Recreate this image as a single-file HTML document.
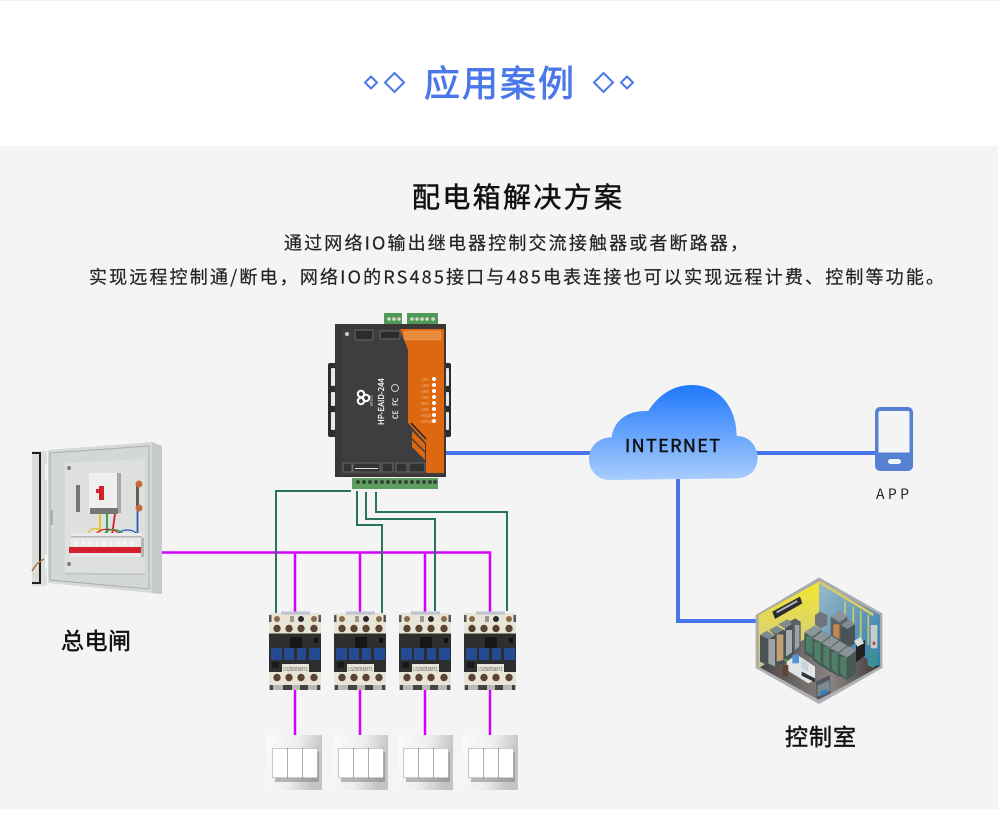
<!DOCTYPE html>
<html><head><meta charset="utf-8"><style>
html,body{margin:0;padding:0;background:#fff;width:1000px;height:827px;overflow:hidden}
svg{display:block}
text{font-family:"Noto Sans CJK SC","Liberation Sans",sans-serif}
</style></head><body>
<svg width="1000" height="827" viewBox="0 0 1000 827" xmlns="http://www.w3.org/2000/svg">
<defs>
<linearGradient id="cl" x1="0" y1="0" x2="0" y2="1"><stop offset="0" stop-color="#1f78fb"/><stop offset="1" stop-color="#a9cdfd"/></linearGradient>
<linearGradient id="sw" x1="0" y1="0" x2="1" y2="0.25"><stop offset="0" stop-color="#fbfbfb"/><stop offset=".55" stop-color="#eeeeee"/><stop offset="1" stop-color="#c4c4c4"/></linearGradient>
<linearGradient id="yl" x1="0" y1="0" x2="0" y2="1"><stop offset="0" stop-color="#f5e52e"/><stop offset="1" stop-color="#c8c79a"/></linearGradient>
<linearGradient id="bw" x1="0" y1="0" x2="1" y2="1"><stop offset="0" stop-color="#9db9c9"/><stop offset="1" stop-color="#2c7da8"/></linearGradient>
<linearGradient id="fl" x1="0" y1="0" x2="1" y2="0"><stop offset="0" stop-color="#4a4341"/><stop offset=".6" stop-color="#8a8583"/><stop offset="1" stop-color="#3d3735"/></linearGradient>
<g id="ct">
<rect x="0" y="0" width="52" height="22" fill="#e8e5d8"/>
<rect x="12" y="-1.500" width="29" height="3" fill="#bcc3cf"/>
<rect x="0" y="2" width="2.500" height="7" fill="#555"/><rect x="49.500" y="2" width="2.500" height="7" fill="#555"/>
<circle cx="8" cy="6" r="3" fill="#8c6a48"/><circle cx="32" cy="6" r="3" fill="#2a2a2a"/><circle cx="45" cy="6" r="3" fill="#8c6a48"/><rect x="21" y="3" width="4" height="6" fill="#9a9a8c"/>
<circle cx="8" cy="15.500" r="3.700" fill="#5a4330"/><circle cx="20" cy="15.500" r="3.700" fill="#5a4330"/><circle cx="32" cy="15.500" r="3.700" fill="#5a4330"/><circle cx="45" cy="15.500" r="3.700" fill="#5a4330"/>
<rect x="0" y="20.500" width="52" height="39" fill="#2e2e2e"/>
<rect x="21" y="24" width="12" height="11" fill="#161616"/>
<rect x="45" y="25" width="4" height="5" fill="#111"/>
<rect x="2" y="35" width="11" height="12" fill="#234a92"/><rect x="15" y="35" width="10" height="12" fill="#234a92"/><rect x="28" y="35" width="9" height="12" fill="#234a92"/><rect x="40" y="35" width="11" height="12" fill="#234a92"/>
<rect x="3" y="49" width="7" height="6" fill="#1a1a1a"/>
<rect x="13" y="51" width="27" height="9" fill="#e8e5d8"/>
<text x="14" y="58" font-size="5.500" fill="#777" textLength="25">LS2587089T1</text>
<rect x="0" y="59" width="52" height="15" fill="#e8e5d8"/>
<circle cx="8" cy="64.500" r="3.700" fill="#5a4330"/><circle cx="20" cy="64.500" r="3.700" fill="#5a4330"/><circle cx="32" cy="64.500" r="3.700" fill="#5a4330"/><circle cx="45" cy="64.500" r="3.700" fill="#5a4330"/>
<rect x="0" y="72" width="52" height="5" fill="#b9b9b2"/>
<rect x="1" y="72" width="3" height="5" fill="#444"/><rect x="14" y="72" width="9" height="5" fill="#444"/><rect x="31" y="72" width="8" height="5" fill="#444"/><rect x="48" y="72" width="3" height="5" fill="#444"/>
</g>
<g id="swi">
<rect x="0" y="0" width="55" height="55" fill="url(#sw)"/>
<rect x="8" y="17" width="44" height="30" fill="#777" opacity=".5"/>
<rect x="5.500" y="13" width="45" height="30" fill="#9a9a9a"/>
<rect x="6" y="13.500" width="14.200" height="29" rx=".8" fill="#fff"/>
<rect x="21" y="13.500" width="14.200" height="29" rx=".8" fill="#fff"/>
<rect x="36" y="13.500" width="14.200" height="29" rx=".8" fill="#fff"/>
</g>
<g id="rk"><path d="M0 12L20 0 44 12 44 28 24 40 0 28z" fill="#7f8b8f"/></g>
</defs>

<rect width="1000" height="827" fill="#fff"/>
<rect width="1000" height="1" fill="#f0f0f0"/>
<rect x="0" y="146" width="998" height="663" fill="#f4f4f4"/>

<!-- title -->
<g fill="none" stroke="#4a78ea" stroke-width="2">
<path d="M371 76.500l6 6-6 6-6-6z"/>
<path d="M394.500 73l9.500 9.500-9.500 9.500-9.500-9.500z"/>
<path d="M603.500 73l9.500 9.500-9.500 9.500-9.500-9.500z"/>
<path d="M627 76.500l6 6-6 6-6-6z"/>
</g>
<text x="424" y="96" font-size="36" fill="#4a78ea" stroke="#4a78ea" stroke-width=".8" textLength="150" lengthAdjust="spacing">应用案例</text>
<text x="412" y="207" font-size="28" fill="#111" stroke="#111" stroke-width=".5" textLength="210" lengthAdjust="spacing">配电箱解决方案</text>
<text x="284" y="249.500" font-size="18" fill="#222" stroke="#222" stroke-width=".2" textLength="464" lengthAdjust="spacing">通过网络IO输出继电器控制交流接触器或者断路器，</text>
<text x="89" y="283.500" font-size="18" fill="#222" stroke="#222" stroke-width=".2" textLength="855" lengthAdjust="spacing">实现远程控制通/断电，网络IO的RS485接口与485电表连接也可以实现远程计费、控制等功能。</text>

<!-- connectors -->
<g fill="none" stroke="#4a74ee" stroke-width="4">
<path d="M446 453H595"/><path d="M750 453H880"/><path d="M678 475V621H760"/>
</g>
<g fill="none" stroke="#d500f9" stroke-width="2.500">
<path d="M162 552.500H490V612"/><path d="M295 552V613"/><path d="M360 552V613"/><path d="M425 552V612"/>
<path d="M295 689V735"/><path d="M360 689V735"/><path d="M425 689V735"/><path d="M490 689V735"/>
</g>
<g fill="none" stroke="#2a7559" stroke-width="2">
<path d="M351 491H276V613"/>
<path d="M357 491V525H382V614"/>
<path d="M366 492V519H435V611"/>
<path d="M376 492V512H507V611"/>
</g>

<!-- device -->
<rect x="328" y="363" width="9" height="74" rx="2" fill="#2c2c2c"/><rect x="331" y="368" width="4" height="18" rx="1" fill="#e8e8e8"/><rect x="331" y="392" width="4" height="14" rx="1" fill="#e8e8e8"/><rect x="331" y="412" width="4" height="18" rx="1" fill="#e8e8e8"/>
<rect x="444" y="363" width="7" height="74" rx="2" fill="#2c2c2c"/><rect x="446" y="368" width="3" height="18" rx="1" fill="#e8e8e8"/><rect x="446" y="392" width="3" height="14" rx="1" fill="#e8e8e8"/><rect x="446" y="412" width="3" height="18" rx="1" fill="#e8e8e8"/>
<rect x="384" y="313" width="18" height="12" fill="#4f9a58"/><rect x="407" y="313" width="31" height="12" fill="#4f9a58"/>
<g fill="#d9d9c8"><circle cx="389" cy="319" r="1.800"/><circle cx="394" cy="319" r="1.800"/><circle cx="399" cy="319" r="1.800"/><circle cx="412" cy="319" r="1.800"/><circle cx="417" cy="319" r="1.800"/><circle cx="422" cy="319" r="1.800"/><circle cx="427" cy="319" r="1.800"/><circle cx="433" cy="319" r="1.800"/></g>
<rect x="335" y="324" width="111" height="153" fill="#3a3836"/>
<rect x="341" y="329" width="103" height="146" rx="2" fill="#3e3e41"/>
<path d="M400 329H444V473H426V443L408 423V350z" fill="#de6810"/>
<path d="M411 423L426 439" stroke="#24262a" stroke-width="1.500"/>
<path d="M412 431l13 13v7l-13-13z" fill="#de6810"/><path d="M412 440l13 13v7l-13-13z" fill="#de6810"/>
<rect x="404" y="331" width="37" height="9" rx="1" fill="#e88a3c" stroke="#f0a060" stroke-width=".5"/>
<rect x="355" y="330" width="18" height="10" rx="1.500" fill="#2c2c2c" stroke="#6a6a6a"/>
<rect x="380" y="331" width="20" height="8" rx="1.500" fill="#2c2c2c" stroke="#6a6a6a"/>
<circle cx="347" cy="334" r="2" fill="#ccc"/>
<g fill="#fff"><circle cx="434" cy="379" r="2"/><circle cx="434" cy="385" r="2"/><circle cx="434" cy="391" r="2"/><circle cx="434" cy="397" r="2"/><circle cx="434" cy="403" r="2"/><circle cx="434" cy="409" r="2"/><circle cx="434" cy="415" r="2"/><circle cx="434" cy="421" r="2"/></g>
<g fill="#f3b585" font-size="3.500"><text x="421" y="381">LINK</text><text x="421" y="387">LINK</text><text x="421" y="393">LINK</text><text x="421" y="399">LINK</text><text x="421" y="405">VDIO</text><text x="421" y="411">LINK</text><text x="421" y="417">MODE</text><text x="421" y="423">EXPOW</text></g>
<text transform="translate(384 425) rotate(-90)" font-size="8" fill="#fff" stroke="#fff" stroke-width=".2" textLength="47">HP-EAID-244</text>
<g fill="none" stroke="#fff" stroke-width="2"><circle cx="361" cy="394" r="3.200"/><circle cx="361" cy="401" r="3.200"/><circle cx="366" cy="398" r="3.200"/></g>
<text transform="translate(373 406) rotate(-90)" font-size="4" fill="#ddd">RFIOT</text>
<circle cx="395" cy="388" r="3.500" fill="none" stroke="#ccc"/>
<text transform="translate(398 406) rotate(-90)" font-size="7" fill="#eee" stroke="#eee" stroke-width=".2">FC</text>
<text transform="translate(398 419) rotate(-90)" font-size="7" fill="#eee" stroke="#eee" stroke-width=".2">CE</text>
<g fill="#333" stroke="#777" stroke-width=".8"><rect x="343" y="463" width="9" height="9" rx="1"/><rect x="353" y="463" width="27" height="9" rx="1"/><rect x="382" y="463" width="11" height="9" rx="1"/><rect x="396" y="463" width="11" height="9" rx="1"/><rect x="409" y="463" width="16" height="9" rx="1"/></g>
<rect x="355" y="468" width="23" height="1" fill="#ddd"/>
<rect x="352" y="478" width="86" height="11" fill="#5f9f60"/>
<g fill="#39443a"><circle cx="358" cy="482" r="2"/><circle cx="364" cy="482" r="2"/><circle cx="370" cy="482" r="2"/><circle cx="376" cy="482" r="2"/><circle cx="382" cy="482" r="2"/><circle cx="388" cy="482" r="2"/><circle cx="394" cy="482" r="2"/><circle cx="400" cy="482" r="2"/><circle cx="406" cy="482" r="2"/><circle cx="412" cy="482" r="2"/><circle cx="418" cy="482" r="2"/><circle cx="424" cy="482" r="2"/><circle cx="430" cy="482" r="2"/><circle cx="435" cy="482" r="2"/></g>

<!-- cabinet -->
<path d="M32 451H47V586H32z" fill="#dfe0de"/>
<path d="M32 453H40V583H32" fill="#dcdcda" stroke="#1e1e1e" stroke-width="2"/>
<rect x="45" y="465" width="3" height="14" fill="#f3f3f3"/><rect x="45" y="555" width="3" height="14" fill="#f3f3f3"/>
<path d="M32 571c4-7 8-10 12-12" fill="none" stroke="#a5704a" stroke-width="1.500"/>
<path d="M48 450L152 442 162 446V594L152 593 48 583z" fill="#d6d9d8"/>
<path d="M50 453L149 446V589L50 580z" fill="#d4d7d7" stroke="#a9adad"/>
<path d="M65 463L145 459V574L65 572z" fill="#dee0e0"/>
<path d="M65 574H145" stroke="#b5b8b8"/>
<path d="M152 442L162 446V594L152 593z" fill="#c6c9c9"/>
<rect x="50" y="510" width="3" height="15" fill="#aeb1b1"/>
<circle cx="69" cy="468" r="2" fill="#7d7d70"/><circle cx="69" cy="564" r="2" fill="#7d7d70"/>
<rect x="89" y="473" width="30" height="40" fill="#eef0ee"/>
<rect x="117" y="473" width="4" height="40" fill="#a8a8a8"/>
<rect x="99" y="486" width="5" height="14" fill="#d4202c"/><rect x="96" y="489" width="6" height="4" fill="#d4202c"/>
<rect x="90" y="508" width="28" height="6" fill="#777"/>
<rect x="76" y="485" width="4" height="27" fill="#75776f"/>
<rect x="136" y="483" width="3" height="27" fill="#5f5f50"/>
<circle cx="139" cy="484" r="3.500" fill="#c66a3a"/><circle cx="139" cy="508" r="3.500" fill="#c66a3a"/>
<path d="M100 514V535" stroke="#e3c21d" stroke-width="1.800"/><path d="M107 514V535" stroke="#2f9a4a" stroke-width="1.800"/><path d="M115 514L112 535" stroke="#d4202c" stroke-width="1.800"/><path d="M137.500 511V537" stroke="#2a5fb0" stroke-width="1.800"/>
<path d="M88 536c0-9 9-8 14-6" fill="none" stroke="#e3c21d" stroke-width="1.200"/>
<path d="M96 536c0-9 22-9 24 0" fill="none" stroke="#d4202c" stroke-width="1.200"/>
<path d="M104 536c0-9 18-8 20 0" fill="none" stroke="#2f9a4a" stroke-width="1.200"/>
<path d="M118 536c0-8 18-8 20 0" fill="none" stroke="#2a5fb0" stroke-width="1.200"/>
<rect x="71" y="533" width="71" height="24" fill="#eaeaea"/>
<rect x="69" y="547" width="73" height="6" fill="#d4202c"/>
<rect x="71" y="536" width="71" height="1.500" fill="#b5b5b5"/>
<rect x="141" y="538" width="3" height="19" fill="#b5b5b5"/>
<g fill="#f7f7f7"><rect x="75" y="541" width="2" height="5"/><rect x="82" y="541" width="2" height="5"/><rect x="89" y="541" width="2" height="5"/><rect x="96" y="541" width="2" height="5"/><rect x="103" y="541" width="2" height="5"/><rect x="110" y="541" width="2" height="5"/><rect x="117" y="541" width="2" height="5"/><rect x="124" y="541" width="2" height="5"/><rect x="131" y="541" width="2" height="5"/></g>

<!-- contactors -->
<use href="#ct" x="269" y="613"/><use href="#ct" x="334" y="613"/><use href="#ct" x="399" y="613"/><use href="#ct" x="464" y="613"/>
<use href="#swi" x="267" y="735"/><use href="#swi" x="333" y="735"/><use href="#swi" x="398" y="735"/><use href="#swi" x="463" y="735"/>

<text x="61" y="649" font-size="23" fill="#111" stroke="#111" stroke-width=".5" textLength="70" lengthAdjust="spacing">总电闸</text>

<!-- cloud -->
<g transform="translate(580 375) scale(.33333)">
<path d="M90 315C50 315 27 285 27 250 27 215 55 187 95 187 100 140 140 105 205 108 235 60 280 30 335 30 415 30 470 95 470 183 510 183 533 215 533 250 533 285 505 310 470 310Z" fill="url(#cl)"/>
</g>
<text x="625" y="452" font-size="18" fill="#111" stroke="#111" stroke-width=".5" textLength="95" lengthAdjust="spacing">INTERNET</text>

<!-- phone -->
<rect x="875" y="407" width="38" height="64" rx="5" fill="#5680d2"/>
<path d="M878.500 413a2 2 0 0 1 2-2h27a2 2 0 0 1 2 2v39.500h-31z" fill="#f4f4f4"/>
<rect x="888" y="459" width="13" height="5" rx="2.500" fill="#f0f4fb"/>
<text x="876" y="499" font-size="14" fill="#222" textLength="33" lengthAdjust="spacing">APP</text>

<!-- room (drawn in 3x coords) -->
<g transform="translate(740 565) scale(.33333)">
<path d="M237 37L427 145V309L237 417 47 309V150z" fill="#a8acae"/>
<path d="M237 50L55 150V305L237 405 420 305V150z" fill="url(#fl)"/>
<path d="M237 50L55 150V310L237 195z" fill="url(#yl)"/>
<path d="M237 50L420 150V305L237 195z" fill="url(#bw)"/>
<path d="M237 50L400 150" stroke="#d9cc68" stroke-width="8" fill="none"/>
<path d="M315 110V190M340 125V210M362 137V225M385 150V240" stroke="#cfc770" stroke-width="5"/>
<path d="M97 140L180 95 187 115 105 162z" fill="#2d2d30"/><path d="M110 142L172 108" stroke="#aeb2b8" stroke-width="6"/>
<!-- left racks -->
<g>
<path d="M60 210L80 198 105 212V312L80 300 60 290z" fill="#4a5258"/><path d="M60 210L80 198 105 212 85 222z" fill="#7f8b8f"/>
<path d="M85 222H105V305L85 295z" fill="#9ca3a3"/>
<path d="M88 195L110 183 135 197V295L110 300 105 290V210z" fill="#4a5258"/><path d="M88 195L110 183 130 195 108 207z" fill="#7f8b8f"/>
<path d="M110 208H130V285L110 290z" fill="#c4a070"/>
<path d="M115 178L142 163 160 175V270L135 290V190z" fill="#4a5258"/><path d="M115 178L142 163 160 175 135 190z" fill="#7f8b8f"/>
<path d="M138 195H156V262L138 275z" fill="#a7aeae"/>
<path d="M148 170L165 160 182 170V255L160 270V180z" fill="#596066"/>
<path d="M165 180H178V245L165 255z" fill="#9aa2a2"/>
</g>
<!-- back racks -->
<path d="M225 150L240 140 262 150V180L240 190 225 180z" fill="#6e7478"/>
<path d="M272 155L300 138 322 155V215L300 232 272 215z" fill="#596066"/><path d="M272 155L300 138 322 155 298 172z" fill="#8a9498"/><path d="M280 178H298V222L280 212z" fill="#c88a46"/>
<path d="M302 180L325 165 345 178V235L325 250 302 235z" fill="#4a5258"/><path d="M302 180L325 165 345 178 322 192z" fill="#7e8a8e"/>
<!-- centre racks -->
<g id="r1"><path d="M193 203L222 182 245 195V290L220 282 193 265z" fill="#465a54"/><path d="M193 203L222 182 245 195 218 216z" fill="#8b9496"/><path d="M198 213H217V270L198 258z" fill="#4f7f6a"/></g>
<path d="M218 220L248 198 272 211V300L245 305 218 285z" fill="#465a54"/><path d="M218 220L248 198 272 211 245 232z" fill="#8b9496"/><path d="M223 230H242V295L223 280z" fill="#4f7f6a"/>
<path d="M245 235L274 213 296 226V315L272 322 245 303z" fill="#465a54"/><path d="M245 235L274 213 296 226 270 248z" fill="#8b9496"/><path d="M250 245H268V312L250 298z" fill="#4f7f6a"/>
<path d="M270 250L298 228 322 241V330L296 335 270 318z" fill="#465a54"/><path d="M270 250L298 228 322 241 296 262z" fill="#8b9496"/><path d="M275 260H293V328L275 312z" fill="#4f7f6a"/>
<path d="M296 265L324 243 348 256V325L322 345 296 330z" fill="#465a54"/><path d="M296 265L324 243 348 256 322 277z" fill="#8b9496"/><path d="M301 275H319V338L301 325z" fill="#4f7f6a"/>
<path d="M348 240L375 225V272L348 292z" fill="#23211f"/>
<path d="M342 228L362 215 372 235 352 245z" fill="#d8dcdc"/>
<path d="M392 180H412V250H392z" fill="#c7ccca"/><rect x="398" y="230" width="8" height="10" fill="#b84a40"/>
<path d="M383 255H412V300L398 308 383 300z" fill="#3d8f98"/>
<!-- desk -->
<path d="M140 290L170 268 225 305V345L205 355 140 315z" fill="#e2e5e5"/>
<rect x="157" y="270" width="20" height="25" fill="#4d95d8"/>
<path d="M184 285L205 295V320L184 310z" fill="#c6d2de"/>
<path d="M185 320L225 340V352L185 332z" fill="#2f3338"/>
<circle cx="137" cy="285" r="5" fill="#3f9a4a"/><path d="M128 300H145V335H128z" fill="#5d4636"/>
<path d="M228 350L270 330 272 385 230 405z" fill="#50575e"/><path d="M232 362L268 345 270 378 233 395z" fill="#7f8a90"/><path d="M240 380L262 370V385L240 394z" fill="#3a7fbb"/>
<path d="M47 309L237 417 427 309V300L237 405 47 300z" fill="#aeb2b4"/>
</g>

<text x="785" y="745" font-size="23" fill="#111" stroke="#111" stroke-width=".5" textLength="71" lengthAdjust="spacing">控制室</text>
</svg>
</body></html>
